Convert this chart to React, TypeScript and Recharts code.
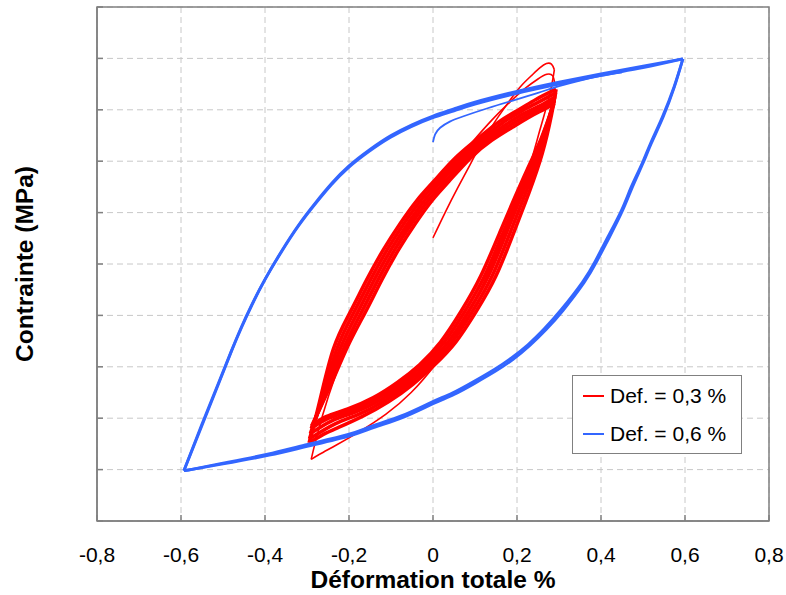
import React from 'react';
import {
  LineChart,
  Line,
  XAxis,
  YAxis,
  CartesianGrid,
  ReferenceArea,
  Legend,
  Label,
} from 'recharts';

// strain (%) / stress (MPa) pairs
const xTicks = [-0.8, -0.6, -0.4, -0.2, 0, 0.2, 0.4, 0.6, 0.8];
const yTicks = [-500, -400, -300, -200, -100, 0, 100, 200, 300, 400, 500];
const legendLabels = ['Def. = 0,3 %', 'Def. = 0,6 %'];

// --- Def. = 0,3 % ---
const redInitial = [
  [0, 51], [0.03, 102], [0.06, 150], [0.09, 196], [0.119, 240], [0.15, 280],
  [0.18, 315], [0.207, 344], [0.235, 367], [0.255, 382], [0.27, 390], [0.282, 389], [0.289, 378],
];
const redCycle1Down = [
  [0.289, 378], [0.278, 330], [0.255, 262], [0.228, 185], [0.196, 112], [0.157, 32], [0.108, -58],
  [0.058, -133], [0.008, -193], [-0.052, -250], [-0.112, -292], [-0.175, -326], [-0.23, -352], [-0.27, -370], [-0.29, -380],
];
const redCycle1Up = [
  [-0.29, -380], [-0.275, -330], [-0.248, -255], [-0.21, -168], [-0.17, -93], [-0.13, -28], [-0.09, 31],
  [-0.05, 86], [-0.01, 134], [0.04, 186], [0.09, 234], [0.14, 280], [0.183, 315], [0.22, 342], [0.25, 360],
  [0.271, 369], [0.285, 366], [0.29, 350],
];
const redUpA = [
  [-0.295, -348], [-0.27, -268], [-0.237, -165], [-0.198, -95], [-0.158, -31], [-0.118, 28], [-0.078, 79],
  [-0.038, 124], [0.002, 161], [0.053, 206], [0.104, 242], [0.156, 276], [0.204, 300], [0.245, 320], [0.293, 340],
];
const redUpB = [
  [-0.294, -340], [-0.264, -259], [-0.228, -163], [-0.189, -95], [-0.149, -31], [-0.109, 28], [-0.069, 79],
  [-0.029, 124], [0.011, 161], [0.062, 206], [0.112, 241], [0.163, 273], [0.21, 297], [0.249, 314], [0.292, 333],
];
const redUpC = [
  [-0.292, -330], [-0.258, -250], [-0.219, -161], [-0.18, -95], [-0.14, -31], [-0.1, 28], [-0.06, 79],
  [-0.02, 124], [0.02, 161], [0.071, 206], [0.121, 241], [0.171, 270], [0.217, 293], [0.253, 307], [0.29, 325],
];
const redUpD = [
  [-0.29, -320], [-0.251, -244], [-0.211, -161], [-0.171, -95], [-0.131, -31], [-0.091, 28], [-0.051, 79],
  [-0.011, 124], [0.029, 161], [0.08, 206], [0.13, 241], [0.18, 268], [0.225, 290], [0.258, 304], [0.289, 318],
];
const redUpE = [
  [-0.289, -315], [-0.245, -238], [-0.203, -160], [-0.162, -95], [-0.122, -31], [-0.082, 28], [-0.042, 79],
  [-0.002, 124], [0.038, 161], [0.089, 206], [0.139, 240], [0.189, 266], [0.232, 287], [0.262, 300], [0.288, 312],
];
const redDownA = [
  [0.293, 340], [0.282, 290], [0.26, 215], [0.229, 140], [0.195, 67], [0.15, -23], [0.103, -92], [0.054, -152],
  [0.004, -196], [-0.048, -234], [-0.106, -268], [-0.167, -296], [-0.225, -318], [-0.262, -332], [-0.295, -348],
];
const redDownB = [
  [0.292, 333], [0.276, 278], [0.251, 206], [0.22, 137], [0.186, 66], [0.141, -23], [0.094, -92], [0.045, -152],
  [-0.005, -196], [-0.057, -233], [-0.115, -266], [-0.176, -292], [-0.233, -311], [-0.294, -340],
];
const redDownC = [
  [0.29, 325], [0.27, 265], [0.242, 197], [0.211, 134], [0.177, 65], [0.132, -23], [0.085, -92], [0.036, -152],
  [-0.014, -196], [-0.066, -232], [-0.124, -264], [-0.185, -288], [-0.241, -305], [-0.292, -330],
];
const redDownD = [
  [0.289, 318], [0.264, 255], [0.233, 190], [0.202, 130], [0.168, 63], [0.123, -23], [0.076, -92], [0.027, -152],
  [-0.023, -196], [-0.075, -231], [-0.133, -262], [-0.194, -285], [-0.248, -300], [-0.29, -320],
];
const redDownE = [
  [0.288, 312], [0.258, 245], [0.224, 183], [0.193, 126], [0.159, 61], [0.114, -23], [0.067, -92], [0.018, -152],
  [-0.032, -196], [-0.084, -230], [-0.142, -260], [-0.203, -282], [-0.255, -297], [-0.289, -315],
];

// --- Def. = 0,6 % ---
const blueInitial = [
  [0, 237], [0.005, 252], [0.017, 265], [0.04, 277], [0.071, 287], [0.13, 303], [0.19, 318],
  [0.25, 333], [0.3, 346], [0.35, 357], [0.4, 366], [0.45, 373],
];
const blueUp1 = [
  [-0.593, -402], [-0.55, -314], [-0.51, -232], [-0.48, -170], [-0.455, -122], [-0.43, -78], [-0.4, -30],
  [-0.36, 26], [-0.32, 76], [-0.28, 119], [-0.24, 158], [-0.2, 191], [-0.15, 223], [-0.1, 250], [-0.05, 271],
  [0, 288], [0.05, 302], [0.1, 315], [0.2, 336], [0.3, 354], [0.4, 370], [0.5, 385], [0.595, 399],
];
const blueUp2 = [
  [-0.593, -402], [-0.551, -313], [-0.511, -232], [-0.481, -171], [-0.457, -124], [-0.432, -80], [-0.402, -33],
  [-0.362, 22], [-0.322, 72], [-0.282, 115], [-0.242, 154], [-0.202, 187], [-0.152, 219], [-0.102, 246],
  [-0.052, 267], [-0.002, 284], [0.05, 298], [0.1, 311], [0.2, 332], [0.3, 350], [0.4, 367], [0.5, 382], [0.595, 399],
];
const blueDown1 = [
  [0.595, 399], [0.575, 345], [0.548, 286], [0.52, 235], [0.5, 196], [0.475, 150], [0.452, 105], [0.42, 52],
  [0.39, 5], [0.36, -36], [0.31, -90], [0.27, -127], [0.23, -159], [0.19, -186], [0.15, -208], [0.1, -232],
  [0.05, -254], [0, -272], [-0.07, -298], [-0.14, -318], [-0.2, -335], [-0.3, -355], [-0.39, -372],
  [-0.5, -389], [-0.57, -399], [-0.593, -402],
];
const blueDown2 = [
  [0.595, 399], [0.574, 345], [0.546, 286], [0.518, 235], [0.498, 196], [0.472, 150], [0.449, 105], [0.416, 52],
  [0.386, 5], [0.356, -35], [0.306, -88], [0.266, -125], [0.226, -157], [0.186, -183], [0.146, -205],
  [0.096, -229], [0.046, -251], [-0.004, -269], [-0.074, -295], [-0.144, -315], [-0.204, -332],
  [-0.304, -352], [-0.394, -370], [-0.503, -388], [-0.571, -399], [-0.593, -402],
];

const RED = '#ff0000';
const BLUE = '#3366ff';
const FONT = '"Liberation Sans", Arial, sans-serif';

const pts = (a: number[][]) => a.map(([x, v]) => ({ x, v }));

const redThin = [redInitial, redCycle1Down, redCycle1Up];
const redBand = [
  redUpA, redUpB, redUpC, redUpD, redUpE,
  redDownA, redDownB, redDownC, redDownD, redDownE,
];
const blueAll = [blueInitial, blueUp1, blueUp2, blueDown1, blueDown2];

const fmtX = (v: number) => (v === 0 ? '0' : v.toFixed(1).replace('.', ','));

function LegendBox() {
  const colors = [RED, BLUE];
  return (
    <div
      style={{
        width: 170,
        height: 79,
        boxSizing: 'border-box',
        border: '1px solid #808080',
        background: '#fff',
        fontFamily: FONT,
        fontSize: 21,
        paddingTop: 1,
      }}
    >
      {legendLabels.map((l, i) => (
        <div key={l} style={{ display: 'flex', alignItems: 'center', height: 38, paddingLeft: 10 }}>
          <svg width={22} height={4} style={{ marginRight: 5 }}>
            <line x1={0} y1={2} x2={21} y2={2} stroke={colors[i]} strokeWidth={2} />
          </svg>
          <span>{l}</span>
        </div>
      ))}
    </div>
  );
}

// y axis has ticks but no labels
const NoTick = () => <g />;

export default function App() {
  return (
    <div style={{ position: 'absolute', left: 0, top: 0, background: '#fff' }}>
      <LineChart width={786} height={595} margin={{ top: 7, right: 17, bottom: 0, left: 0 }}>
        <CartesianGrid stroke="#c8c8c8" strokeDasharray="6 4" />
        <XAxis
          type="number"
          dataKey="x"
          domain={[-0.8, 0.8]}
          ticks={xTicks}
          tickFormatter={fmtX}
          height={74}
          tickSize={-6}
          tickMargin={32}
          axisLine={{ stroke: '#808080', strokeWidth: 1.5 }}
          tickLine={{ stroke: '#808080', strokeWidth: 1.5 }}
          tick={{ fill: '#000', fontSize: 21, fontFamily: FONT }}
          allowDataOverflow
        >
          <Label
            content={({ viewBox }: any) => (
              <text
                x={viewBox.x + viewBox.width / 2}
                y={viewBox.y + 67}
                textAnchor="middle"
                fontFamily={FONT}
                fontSize={24.5}
                fontWeight="bold"
                fill="#000"
              >
                Déformation totale %
              </text>
            )}
          />
        </XAxis>
        <YAxis
          type="number"
          dataKey="v"
          domain={[-500, 500]}
          ticks={yTicks}
          width={97}
          tick={NoTick}
          tickSize={-6}
          axisLine={{ stroke: '#808080', strokeWidth: 1.5 }}
          tickLine={{ stroke: '#808080', strokeWidth: 1.5 }}
          allowDataOverflow
        >
          <Label
            content={({ viewBox }: any) => (
              <text
                transform={`translate(${viewBox.x + 24},${viewBox.y + viewBox.height / 2}) rotate(-90)`}
                textAnchor="middle"
                dominantBaseline="central"
                fontFamily={FONT}
                fontSize={24.5}
                fontWeight="bold"
                fill="#000"
              >
                Contrainte (MPa)
              </text>
            )}
          />
        </YAxis>
        <ReferenceArea x1={-0.8} x2={0.8} y1={-500} y2={500} fill="none" stroke="#808080" strokeWidth={1.5} />
        {redThin.map((d, i) => (
          <Line
            key={'rt' + i}
            data={pts(d)}
            dataKey="v"
            type="natural"
            stroke={RED}
            strokeWidth={1.6}
            dot={false}
            activeDot={false}
            isAnimationActive={false}
            legendType="none"
          />
        ))}
        {redBand.map((d, i) => (
          <Line
            key={'rb' + i}
            data={pts(d)}
            dataKey="v"
            type="natural"
            stroke={RED}
            strokeWidth={3.6}
            dot={false}
            activeDot={false}
            isAnimationActive={false}
            legendType="none"
          />
        ))}
        {blueAll.map((d, i) => (
          <Line
            key={'b' + i}
            data={pts(d)}
            dataKey="v"
            type="natural"
            stroke={BLUE}
            strokeWidth={i === 0 ? 1.8 : 2.8}
            dot={false}
            activeDot={false}
            isAnimationActive={false}
            legendType="none"
          />
        ))}
        <Legend
          layout="vertical"
          align="center"
          verticalAlign="middle"
          content={() => <LegendBox />}
          wrapperStyle={{ left: 572, top: 375, width: 170, height: 79 }}
        />
      </LineChart>
    </div>
  );
}
